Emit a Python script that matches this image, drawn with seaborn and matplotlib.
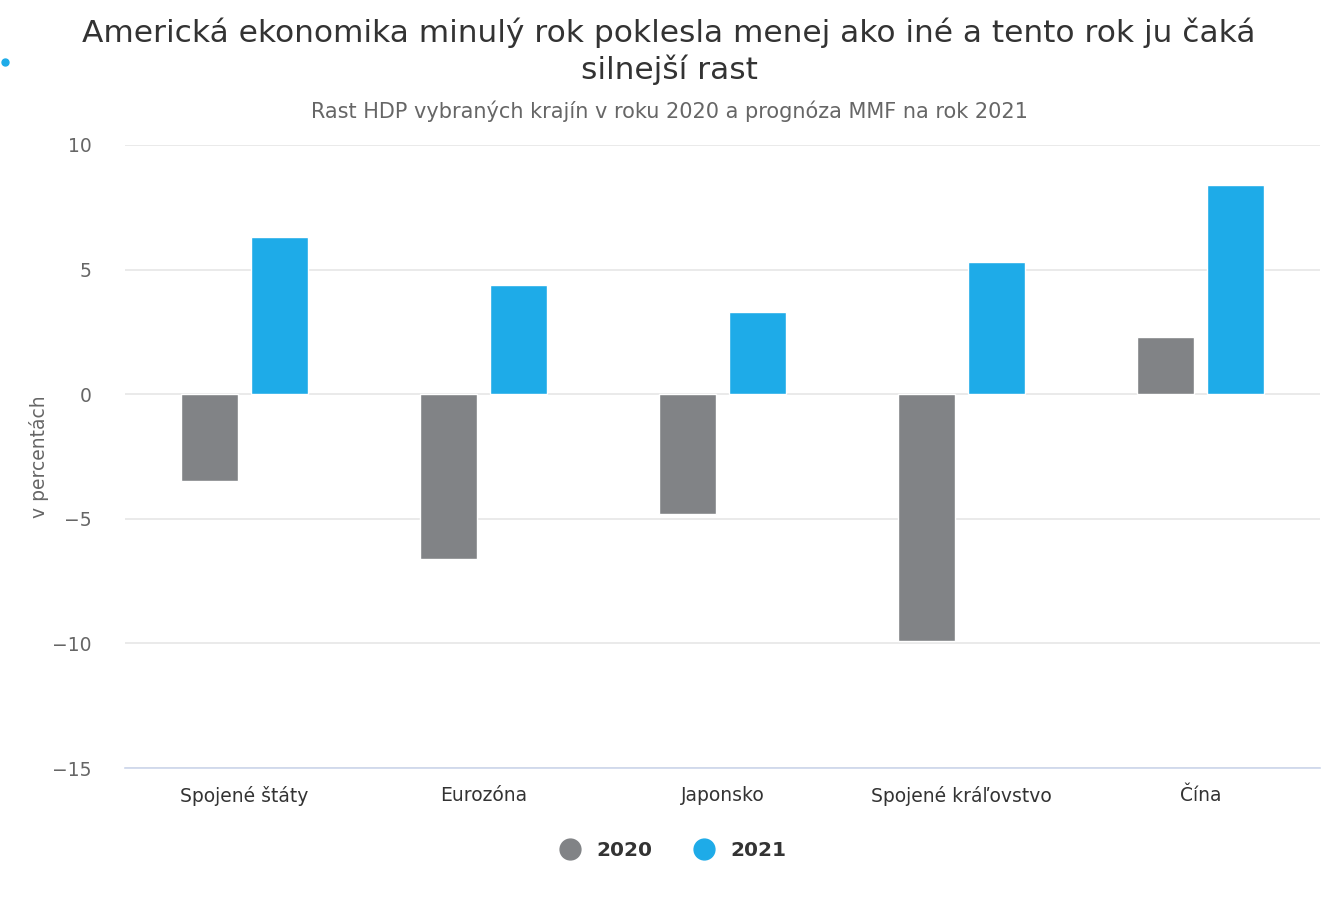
import matplotlib
matplotlib.use("Agg")
import matplotlib.pyplot as plt
import seaborn as sns
import pandas as pd
from matplotlib.lines import Line2D

categories = ["Spojené štáty", "Eurozóna", "Japonsko", "Spojené kráľovstvo", "Čína"]
values_2020 = [-3.5, -6.6, -4.8, -9.9, 2.3]
values_2021 = [6.3, 4.4, 3.3, 5.3, 8.4]
series_names = ["2020", "2021"]
colors = ["#818386", "#1eabe8"]
yticks = [10, 5, 0, -5, -10, -15]

df = pd.DataFrame({
    "krajina": categories * 2,
    "rok": [series_names[0]] * len(categories) + [series_names[1]] * len(categories),
    "hodnota": values_2020 + values_2021,
})

sns.set_theme(style="white")
plt.rcParams["font.family"] = ["DejaVu Sans"]

fig = plt.figure(figsize=(13.38, 9), dpi=100)
ax = fig.add_axes([125 / 1338, 1 - 768 / 900, (1320 - 125) / 1338, (768 - 145) / 900])

sns.barplot(data=df, x="krajina", y="hodnota", hue="rok", order=categories,
            hue_order=series_names, palette=colors, width=0.584, gap=0.18,
            edgecolor="white", linewidth=1, saturation=1, legend=False, ax=ax, zorder=3)

ax.set_ylim(-15, 10)
ax.set_xlim(-0.5, len(categories) - 0.5)
ax.set_yticks(yticks)
ax.set_yticklabels([("−" + str(abs(t))) if t < 0 else str(t) for t in yticks])
ax.yaxis.grid(True, color="#e6e6e6", linewidth=1.2, zorder=0)
ax.set_axisbelow(True)
for s in ["top", "right", "left"]:
    ax.spines[s].set_visible(False)
ax.spines["bottom"].set_color("#ccd6eb")
ax.spines["bottom"].set_linewidth(1.2)
ax.spines["bottom"].set_zorder(4)
ax.tick_params(axis="y", length=0, pad=24, labelsize=13.5, labelcolor="#666666")
ax.tick_params(axis="x", length=0, pad=13, labelsize=13.5, labelcolor="#333333")
ax.set_xlabel("")
ax.set_ylabel("v percentách", fontsize=13.5, color="#666666", labelpad=2)

fig.text(0.5, 1 - 33 / 900, "Americká ekonomika minulý rok poklesla menej ako iné a tento rok ju čaká",
         ha="center", va="center", fontsize=22.5, color="#333333")
fig.text(0.5, 1 - 70 / 900, "silnejší rast", ha="center", va="center", fontsize=22.5, color="#333333")
fig.text(0.5, 1 - 111 / 900, "Rast HDP vybraných krajín v roku 2020 a prognóza MMF na rok 2021",
         ha="center", va="center", fontsize=15, color="#666666")

# small decorative dot at left edge
fig.add_artist(Line2D([5 / 1338], [1 - 62 / 900], marker="o", markersize=5,
                      color="#1eabe8", transform=fig.transFigure))

handles = [Line2D([0], [0], marker="o", linestyle="", markersize=15,
                  markerfacecolor=c, markeredgecolor=c) for c in colors]
leg = fig.legend(handles, series_names, loc="center", bbox_to_anchor=(668 / 1338, 1 - 851 / 900),
                 ncol=2, frameon=False, handletextpad=0.3, columnspacing=1.6,
                 prop={"size": 14.5, "weight": "bold"})
for t in leg.get_texts():
    t.set_color("#333333")

fig.savefig("out.png", dpi=100, facecolor="white")
